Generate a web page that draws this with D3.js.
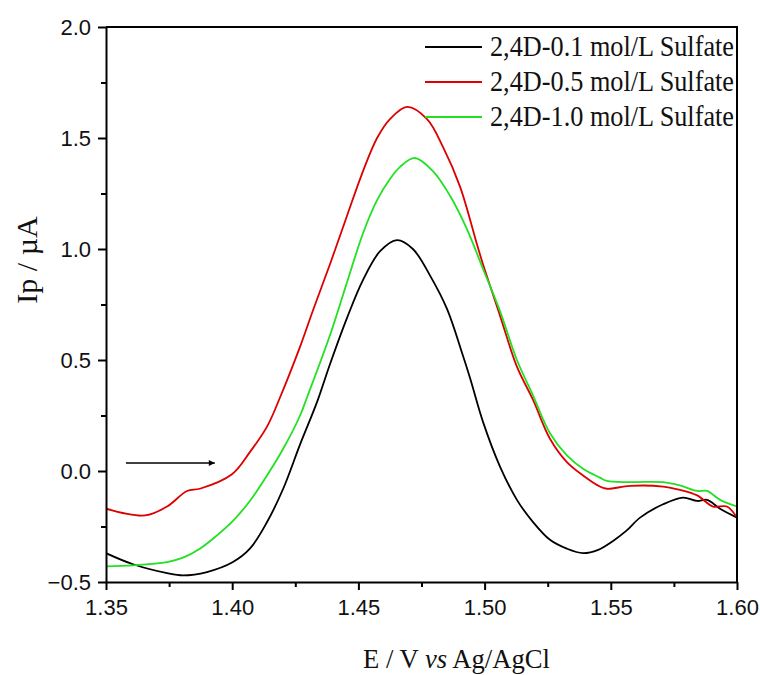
<!DOCTYPE html>
<html>
<head>
<meta charset="utf-8">
<script src="https://cdnjs.cloudflare.com/ajax/libs/d3/7.8.5/d3.min.js"></script>
<style>
  body { margin: 0; background: #fff; }
  svg { display: block; }
  .tick-label { font-family: "Liberation Sans", Arial, sans-serif; font-size: 22px; fill: #111; }
  .serif { font-family: "Liberation Serif", "Times New Roman", serif; fill: #111; }
</style>
</head>
<body>
<svg id="chart" width="760" height="675"></svg>
<script>
const black01 = [
  [1.350, -0.37], [1.3607, -0.42], [1.3742, -0.46], [1.3805, -0.47], [1.390, -0.455],
  [1.4003, -0.41], [1.407, -0.35], [1.4138, -0.23], [1.4202, -0.08], [1.4269, 0.12],
  [1.4336, 0.31], [1.4387, 0.48], [1.4455, 0.69], [1.4518, 0.86], [1.4586, 0.99],
  [1.4653, 1.04], [1.4716, 1.00], [1.4784, 0.88], [1.4851, 0.73], [1.4914, 0.52],
  [1.4942, 0.42], [1.4994, 0.22], [1.5061, 0.02], [1.5128, -0.13], [1.5192, -0.23],
  [1.5259, -0.31], [1.5326, -0.35], [1.539, -0.37], [1.545, -0.355], [1.5509, -0.315],
  [1.5561, -0.27], [1.5616, -0.21], [1.5707, -0.15], [1.5786, -0.12], [1.5842, -0.135],
  [1.5881, -0.13], [1.5933, -0.17], [1.600, -0.21]
];
const red05 = [
  [1.350, -0.17], [1.3655, -0.20], [1.3742, -0.16], [1.3821, -0.09], [1.3872, -0.08],
  [1.3999, -0.015], [1.407, 0.085], [1.4138, 0.20], [1.4189, 0.33], [1.4269, 0.56],
  [1.4322, 0.73], [1.4387, 0.93], [1.4455, 1.15], [1.4518, 1.35], [1.4574, 1.50],
  [1.4625, 1.585], [1.4693, 1.64], [1.4772, 1.585], [1.4835, 1.46], [1.4903, 1.28],
  [1.497, 1.02], [1.4994, 0.93], [1.5061, 0.70], [1.5128, 0.47], [1.5192, 0.32],
  [1.5259, 0.145], [1.5326, 0.04], [1.539, -0.02], [1.5457, -0.07], [1.5485, -0.08],
  [1.5576, -0.067], [1.5707, -0.07], [1.5774, -0.085], [1.5842, -0.11], [1.5905, -0.16],
  [1.596, -0.16], [1.600, -0.21]
];
const green10 = [
  [1.350, -0.43], [1.3607, -0.425], [1.3742, -0.41], [1.3805, -0.39], [1.3872, -0.35],
  [1.394, -0.29], [1.4003, -0.225], [1.407, -0.135], [1.4138, -0.02], [1.4202, 0.10],
  [1.4269, 0.25], [1.4296, 0.33], [1.4387, 0.61], [1.4455, 0.85], [1.4518, 1.07],
  [1.4574, 1.22], [1.4625, 1.315], [1.4665, 1.37], [1.4724, 1.41], [1.4796, 1.35],
  [1.4863, 1.24], [1.493, 1.09], [1.4994, 0.91], [1.5061, 0.72], [1.5128, 0.50],
  [1.5192, 0.34], [1.5259, 0.17], [1.5326, 0.07], [1.539, 0.01], [1.5457, -0.03],
  [1.5485, -0.045], [1.5576, -0.05], [1.5707, -0.05], [1.5774, -0.065], [1.5842, -0.09],
  [1.5881, -0.09], [1.5933, -0.13], [1.600, -0.16]
];

const seriesNames = ['2,4D-0.1 mol/L Sulfate', '2,4D-0.5 mol/L Sulfate', '2,4D-1.0 mol/L Sulfate'];
const seriesColors = ['#000000', '#dc0000', '#22e022'];
const seriesData = [black01, red05, green10];

const xTicks = [1.35, 1.40, 1.45, 1.50, 1.55, 1.60];
const xMinor = [1.375, 1.425, 1.475, 1.525, 1.575];
const yTicks = [-0.5, 0.0, 0.5, 1.0, 1.5, 2.0];
const yMinor = [-0.25, 0.25, 0.75, 1.25, 1.75];

// arrow for scan direction (data units)
const scanArrow = [[1.3579, 0.036], [1.3931, 0.036]];

// layout
const svg = d3.select('#chart');
const plot = {left: 106, right: 737, top: 27, bottom: 582};

const x = d3.scaleLinear().domain([1.35, 1.60]).range([plot.left, plot.right]);
const y = d3.scaleLinear().domain([-0.5, 2.0]).range([plot.bottom, plot.top]);

svg.append('clipPath').attr('id', 'clip')
  .append('rect')
  .attr('x', plot.left).attr('y', plot.top)
  .attr('width', plot.right - plot.left).attr('height', plot.bottom - plot.top);

// curves
const line = d3.line()
  .x(d => x(d[0]))
  .y(d => y(d[1]))
  .curve(d3.curveCatmullRom.alpha(0.5));

const curves = svg.append('g').attr('clip-path', 'url(#clip)');
seriesData.forEach((data, i) => {
  curves.append('path')
    .datum(data)
    .attr('d', line)
    .attr('fill', 'none')
    .attr('stroke', seriesColors[i])
    .attr('stroke-width', 1.8)
    .attr('stroke-linejoin', 'round');
});

// frame (top + right, no ticks)
svg.append('path')
  .attr('d', `M${plot.left},${plot.top}H${plot.right}V${plot.bottom}`)
  .attr('fill', 'none').attr('stroke', '#000').attr('stroke-width', 2);

// bottom axis
const xAxis = svg.append('g').attr('transform', `translate(0,${plot.bottom})`)
  .call(d3.axisBottom(x).tickValues(xTicks).tickFormat(d3.format('.2f')).tickSizeOuter(0).tickSizeInner(8).tickPadding(9));
xAxis.selectAll('.tick text').attr('class', 'tick-label');
xAxis.attr('font-size', null).attr('font-family', null);
const xMinorAxis = svg.append('g').attr('transform', `translate(0,${plot.bottom})`)
  .call(d3.axisBottom(x).tickValues(xMinor).tickFormat('').tickSizeOuter(0).tickSizeInner(5));
xMinorAxis.select('.domain').remove();

// left axis
const yAxis = svg.append('g').attr('transform', `translate(${plot.left},0)`)
  .call(d3.axisLeft(y).tickValues(yTicks).tickFormat(d3.format('.1f')).tickSizeOuter(0).tickSizeInner(8).tickPadding(7));
yAxis.selectAll('.tick text').attr('class', 'tick-label');
yAxis.attr('font-size', null).attr('font-family', null);
const yMinorAxis = svg.append('g').attr('transform', `translate(${plot.left},0)`)
  .call(d3.axisLeft(y).tickValues(yMinor).tickFormat('').tickSizeOuter(0).tickSizeInner(5));
yMinorAxis.select('.domain').remove();

svg.selectAll('.domain, .tick line').attr('stroke', '#000').attr('stroke-width', 2);

// arrow
const defs = svg.append('defs');
defs.append('marker')
  .attr('id', 'arrowhead')
  .attr('viewBox', '0 0 10 10')
  .attr('refX', 10).attr('refY', 5)
  .attr('markerWidth', 10).attr('markerHeight', 6)
  .attr('markerUnits', 'userSpaceOnUse')
  .attr('orient', 'auto')
  .append('path').attr('d', 'M0,0L10,5L0,10Z').attr('fill', '#000');

svg.append('line')
  .attr('x1', x(scanArrow[0][0])).attr('y1', y(scanArrow[0][1]))
  .attr('x2', x(scanArrow[1][0])).attr('y2', y(scanArrow[1][1]))
  .attr('stroke', '#000').attr('stroke-width', 1.3)
  .attr('marker-end', 'url(#arrowhead)');

// legend
const legend = svg.append('g').attr('transform', 'translate(425,47)');
seriesNames.forEach((name, i) => {
  const row = legend.append('g').attr('transform', `translate(0,${i * 35})`);
  row.append('line')
    .attr('x1', 0).attr('x2', 57).attr('y1', 0).attr('y2', 0)
    .attr('stroke', seriesColors[i]).attr('stroke-width', 2);
  row.append('text')
    .attr('class', 'serif')
    .attr('x', 65).attr('y', 9)
    .attr('font-size', 29)
    .attr('textLength', 244)
    .attr('lengthAdjust', 'spacingAndGlyphs')
    .text(name);
});

// axis titles
const xTitle = svg.append('text')
  .attr('class', 'serif')
  .attr('x', 363).attr('y', 668)
  .attr('font-size', 27)
  .attr('textLength', 187)
  .attr('lengthAdjust', 'spacingAndGlyphs');
xTitle.append('tspan').text('E / V ');
xTitle.append('tspan').attr('font-style', 'italic').text('vs');
xTitle.append('tspan').text(' Ag/AgCl');

svg.append('text')
  .attr('class', 'serif')
  .attr('transform', 'translate(37,260) rotate(-90)')
  .attr('text-anchor', 'middle')
  .attr('font-size', 30)
  .text('Ip / µA');
</script>
</body>
</html>
